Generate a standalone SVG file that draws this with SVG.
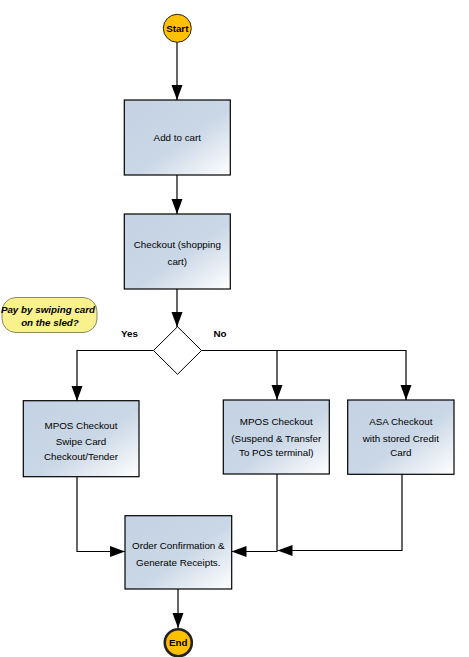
<svg xmlns="http://www.w3.org/2000/svg" width="469" height="657" viewBox="0 0 469 657">
<defs>
<linearGradient id="boxg" x1="0" y1="0" x2="1" y2="1">
<stop offset="0" stop-color="#c4d2e3"/>
<stop offset="0.55" stop-color="#cad7e6"/>
<stop offset="1" stop-color="#ffffff"/>
</linearGradient>
<marker id="arr" markerUnits="userSpaceOnUse" markerWidth="16" markerHeight="12" refX="15" refY="5.5" orient="auto">
<path d="M0,0 L15,5.5 L0,11 z" fill="#000"/>
</marker>
<style>
.box{fill:url(#boxg);stroke:#000;stroke-width:1.2}
.t{font-family:"Liberation Sans",Arial,sans-serif;font-size:9.8px;fill:#000;text-anchor:middle}
.b{font-weight:bold}
.c{fill:none;stroke:#000;stroke-width:1.2;marker-end:url(#arr)}
.term{fill:#ffc000;stroke:#222}
</style>
</defs>
<rect width="469" height="657" fill="#fff"/>
<g id="connectors">
<path class="c" d="M177,42 L177,100"/>
<path class="c" d="M177,175 L177,214"/>
<path class="c" d="M177,289 L177,327"/>
<path class="c" d="M153.5,350.5 L77,350.5 L77,401"/>
<path class="c" d="M201.5,350.5 L277,350.5 L277,400"/>
<path class="c" d="M277,350.5 L406,350.5 L406,400"/>
<path class="c" d="M77,477 L77,551.5 L125,551.5"/>
<path class="c" d="M277,474 L277,551.5 L231.5,551.5"/>
<path class="c" d="M402,474 L402,550.5 L277.5,550.5"/>
<path class="c" d="M178,589 L178,628"/>
</g>
<g id="start">
<circle class="term" cx="177.3" cy="28.3" r="14" stroke-width="1"/>
<text class="t b" x="177.3" y="31.5" font-size="9">Start</text>
</g>
<g id="add-to-cart">
<rect class="box" x="124.3" y="100" width="106" height="75"/>
<text class="t" x="177.3" y="140.5">Add to cart</text>
</g>
<g id="checkout">
<rect class="box" x="124.3" y="214" width="106" height="75"/>
<text class="t" x="177.3" y="247.5">Checkout (shopping</text>
<text class="t" x="177.3" y="264.5">cart)</text>
</g>
<g id="question">
<rect x="2" y="297.5" width="95" height="35" rx="14" ry="14" fill="#f9f28c" stroke="#8a8a5c" stroke-width="1"/>
<text class="t b" x="48" y="312.5" font-style="italic" font-size="9.2">Pay by swiping card</text>
<text class="t b" x="50" y="326" font-style="italic" font-size="9.2">on the sled?</text>
</g>
<g id="decision">
<polygon points="177.5,326.7 201.5,350.5 177.5,374.3 153.5,350.5" fill="#fff" stroke="#000" stroke-width="1"/>
<text class="t b" x="129.5" y="337" font-size="9">Yes</text>
<text class="t b" x="220" y="337" font-size="9">No</text>
</g>
<g id="mpos-swipe">
<rect class="box" x="23.3" y="400.7" width="115.7" height="76"/>
<text class="t" x="81" y="428.5">MPOS Checkout</text>
<text class="t" x="81" y="444.5">Swipe Card</text>
<text class="t" x="81" y="460">Checkout/Tender</text>
</g>
<g id="mpos-suspend">
<rect class="box" x="223.3" y="400" width="106" height="74"/>
<text class="t" x="276.3" y="425">MPOS Checkout</text>
<text class="t" x="276.3" y="441.5">(Suspend &amp; Transfer</text>
<text class="t" x="276.3" y="456">To POS terminal)</text>
</g>
<g id="asa-checkout">
<rect class="box" x="347.7" y="400" width="106.3" height="74.3"/>
<text class="t" x="400.8" y="425">ASA Checkout</text>
<text class="t" x="400.8" y="441.5">with stored Credit</text>
<text class="t" x="400.8" y="456">Card</text>
</g>
<g id="order-confirmation">
<rect class="box" x="125" y="515.7" width="106.7" height="73.3"/>
<text class="t" x="178.3" y="548.5">Order Confirmation &amp;</text>
<text class="t" x="178.3" y="565.5">Generate Receipts.</text>
</g>
<g id="end">
<circle class="term" cx="178.3" cy="642.7" r="13.5" stroke="#000" stroke-width="2.6"/>
<text class="t b" x="178.3" y="646" font-size="9">End</text>
</g>
</svg>
